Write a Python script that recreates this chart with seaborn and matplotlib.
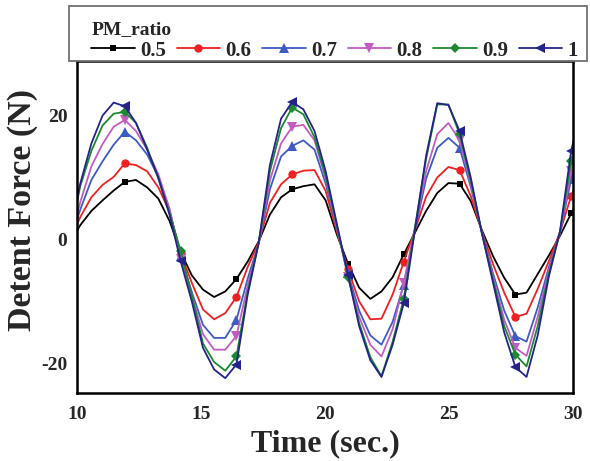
import numpy as np
import pandas as pd
import seaborn as sns
import matplotlib.pyplot as plt
from matplotlib.patches import Rectangle

# sample times (s), markers on every 5th sample starting at 11.93
time_s = [9.68, 10.13, 10.58, 11.03, 11.48, 11.93, 12.38, 12.83, 13.28, 13.73,
          14.18, 14.63, 15.08, 15.53, 15.98, 16.43, 16.88, 17.33, 17.78, 18.23,
          18.68, 19.13, 19.58, 20.03, 20.48, 20.93, 21.38, 21.83, 22.28, 22.73,
          23.18, 23.63, 24.08, 24.53, 24.98, 25.43, 25.88, 26.33, 26.78, 27.23,
          27.68, 28.13, 28.58, 29.03, 29.48, 29.93, 30.38]

force_05 = [-0.8, 2.3, 4.6, 6.3, 7.9, 9.3, 9.6, 8.4, 6.6, 3.0,
            -2.0, -5.8, -8.1, -9.3, -8.4, -6.4, -3.6, -0.3, 4.0, 6.8,
            8.1, 8.6, 8.9, 6.3, 0.8, -3.9, -7.8, -9.6, -8.4, -6.1,
            -2.4, 1.1, 4.6, 7.5, 9.1, 9.0, 6.2, 1.5, -2.7, -6.2,
            -8.9, -8.6, -5.6, -2.6, 0.6, 4.2, 7.5]
force_06 = [-0.6, 3.6, 6.8, 8.8, 10.1, 12.3, 12.0, 11.0, 8.4, 4.5,
            -2.2, -7.0, -11.3, -12.9, -11.9, -9.3, -4.5, -0.4, 5.9, 8.9,
            10.5, 11.1, 11.2, 7.8, 1.3, -4.8, -10.0, -12.9, -12.8, -8.9,
            -3.6, 1.5, 6.9, 10.0, 11.7, 11.2, 7.0, 1.3, -4.0, -8.6,
            -12.5, -12.0, -8.0, -3.5, 1.2, 7.0, 11.0]
force_07 = [-0.8, 4.8, 9.6, 12.6, 15.3, 17.4, 16.0, 13.7, 10.1, 4.8,
            -2.6, -8.5, -13.8, -15.9, -15.9, -13.0, -6.4, -0.6, 8.1, 13.4,
            15.1, 16.0, 14.5, 9.0, 1.8, -5.5, -11.5, -15.5, -17.0, -13.3,
            -7.3, 1.5, 9.8, 14.8, 16.4, 14.8, 8.5, 1.2, -5.5, -11.5,
            -15.6, -16.5, -11.0, -4.5, 1.0, 9.8, 16.0]
force_08 = [-1.0, 6.0, 11.8, 15.4, 18.2, 19.3, 17.5, 14.5, 10.5, 5.0,
            -3.2, -9.0, -15.3, -17.8, -17.8, -15.6, -7.5, -0.6, 9.5, 15.5,
            18.2, 18.5, 16.0, 9.8, 2.0, -6.0, -12.5, -17.0, -18.9, -14.5,
            -7.0, 1.8, 11.0, 17.0, 18.8, 16.0, 9.0, 1.0, -6.0, -13.0,
            -17.5, -18.8, -12.5, -5.0, 1.0, 11.1, 18.0]
force_09 = [-0.5, 8.6, 14.3, 18.4, 20.3, 20.6, 18.8, 14.8, 9.8, 4.3,
            -1.9, -9.0, -16.8, -19.8, -21.2, -18.9, -8.5, -0.5, 11.0, 18.0,
            21.3, 20.2, 16.5, 10.2, 2.3, -6.0, -13.5, -19.0, -22.1, -16.5,
            -9.6, 2.0, 13.0, 21.8, 21.8, 17.0, 9.5, 1.0, -6.5, -14.0,
            -18.6, -20.5, -14.0, -5.5, 1.2, 12.7, 20.0]
force_10 = [0.0, 9.0, 15.5, 20.0, 22.1, 21.5, 18.8, 14.5, 10.0, 4.0,
            -3.5, -10.0, -17.5, -21.0, -22.4, -20.2, -9.0, -0.5, 12.0, 19.5,
            22.2, 21.0, 17.5, 11.0, 2.5, -5.7, -14.0, -19.5, -22.2, -17.0,
            -10.3, 1.5, 13.5, 22.0, 21.7, 17.5, 10.0, 1.0, -7.0, -15.0,
            -20.6, -22.2, -15.5, -6.0, 1.3, 14.3, 22.0]

pm_ratios = ["0.5", "0.6", "0.7", "0.8", "0.9", "1"]
series = [force_05, force_06, force_07, force_08, force_09, force_10]
colors = ["black", "#f02020", "#3d5bc4", "#c25cc2", "#1b8a2e", "#23238a"]
markers = ["s", "o", "^", "v", "D", "<"]
msizes = [5, 6, 7, 7, 5, 7]

df = pd.DataFrame({
    "Time": np.tile(time_s, len(pm_ratios)),
    "Force": np.concatenate(series),
    "PM_ratio": np.repeat(pm_ratios, len(time_s)),
})

sns.set_style("white")
plt.rcParams["font.family"] = ["Liberation Serif", "DejaVu Serif"]
plt.rcParams["font.weight"] = "bold"
plt.rcParams["axes.unicode_minus"] = False

fig = plt.figure(figsize=(5.9, 4.61), dpi=100)
ax = fig.add_axes([0.1305, 0.1475, 0.8405, 0.72])

for lab, col, mk, ms in zip(pm_ratios, colors, markers, msizes):
    sub = df[df["PM_ratio"] == lab]
    sns.lineplot(data=sub, x="Time", y="Force", ax=ax, color=col, lw=1.3,
                 marker=mk, markersize=ms, markeredgewidth=0,
                 markevery=slice(5, None, 5), label=lab, legend=False)

ax.set_xlim(10, 30)
ax.set_ylim(-24.8, 28.8)
ax.set_xticks([10, 15, 20, 25, 30])
ax.set_yticks([-20, 0, 20])
ax.tick_params(length=0, labelsize=14)
ax.tick_params(axis="x", pad=9)
ax.tick_params(axis="y", pad=7)
for lbl in ax.get_xticklabels() + ax.get_yticklabels():
    lbl.set_fontweight("bold")
ax.set_xlabel("Time (sec.)", fontsize=23, fontweight="bold", labelpad=5)
ax.set_ylabel("Detent Force (N)", fontsize=24.5, fontweight="bold")
ax.yaxis.set_label_coords(-0.078, 0.55)
for sp in ax.spines.values():
    sp.set_color("black")
    sp.set_linewidth(1.8)

# legend box sits above the axes, wider than the plot frame
fig.patches.append(Rectangle((0.117, 0.868), 0.878, 0.119, transform=fig.transFigure,
                             facecolor="white", edgecolor="#707070", lw=1.3, zorder=5))
handles = [plt.Line2D([], [], color=c, marker=m, markersize=s, markeredgewidth=0, lw=1.3)
           for c, m, s in zip(colors, markers, msizes)]
leg = fig.legend(handles, pm_ratios, title="PM_ratio", loc="upper left",
                 bbox_to_anchor=(0.151, 0.0, 0.832, 0.958), ncol=6,
                 mode="expand", frameon=False, handlelength=2.1, handletextpad=0.25,
                 columnspacing=0.5, borderpad=0.1, labelspacing=0.1,
                 borderaxespad=0,
                 prop={"size": 15, "weight": "bold"},
                 title_fontproperties={"size": 14, "weight": "bold"},
                 alignment="left")
leg.set_zorder(6)

fig.savefig("out.png", dpi=100)
